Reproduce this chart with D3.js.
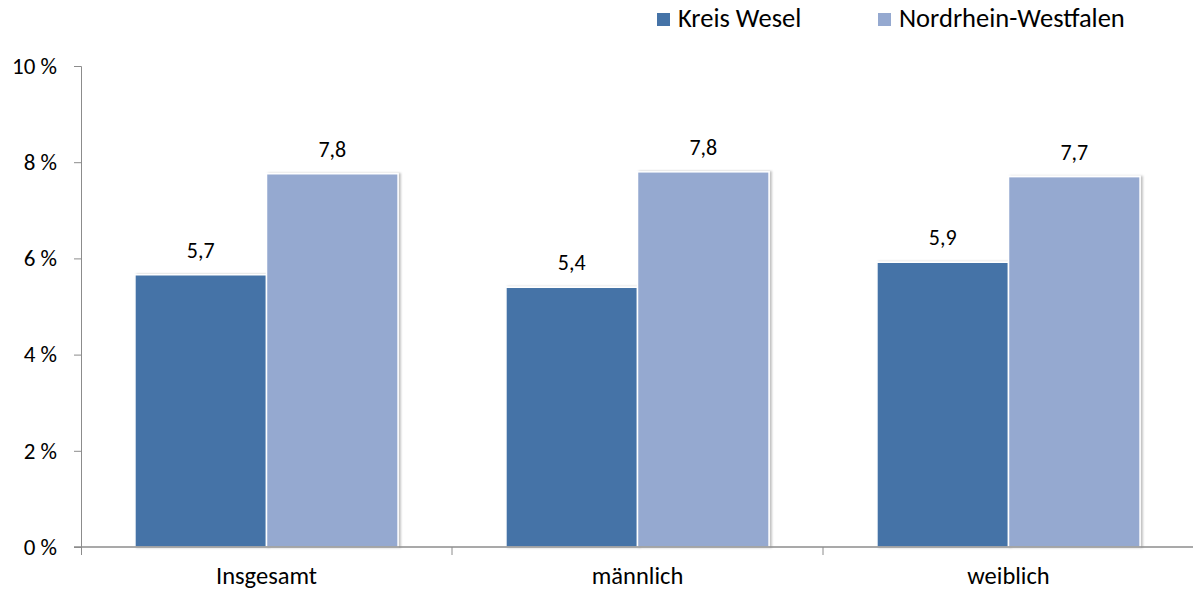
<!DOCTYPE html>
<html>
<head>
<meta charset="utf-8">
<script src="https://cdn.jsdelivr.net/npm/d3@7"></script>
<style>
  body { margin: 0; background: #fff; }
  svg { display: block; font-family: Carlito, Calibri, Lato, sans-serif; }
</style>
</head>
<body>
<div id="chart"></div>
<script>
// Chart data
var categories = ["Insgesamt", "männlich", "weiblich"];
var seriesNames = ["Kreis Wesel", "Nordrhein-Westfalen"];
var kreisWesel = [5.66, 5.4, 5.92];
var nrw = [7.76, 7.8, 7.7];
var yTicks = [0, 2, 4, 6, 8, 10];
var colors = ["#4573a7", "#95a9d0"];

var svgWidth = 1193;
var svgHeight = 592;

var margin = { top: 66, right: -1, bottom: 45, left: 81 };
var chartWidth = svgWidth - margin.left - margin.right;
var chartHeight = svgHeight - margin.top - margin.bottom;

var svg = d3.select("#chart")
  .append("svg")
  .attr("width", svgWidth)
  .attr("height", svgHeight);

// soft shadow on the right side of bars
var defs = svg.append("defs");
var filter = defs.append("filter").attr("id", "shadow")
  .attr("x", "-10%").attr("y", "-10%").attr("width", "120%").attr("height", "120%");
filter.append("feDropShadow")
  .attr("dx", 2).attr("dy", 0).attr("stdDeviation", 1.2)
  .attr("flood-color", "#000").attr("flood-opacity", 0.25);

var chartGroup = svg.append("g")
  .attr("transform", `translate(${margin.left}, ${margin.top})`);

var data = categories.map(function(c, i) {
  return { category: c, values: [kreisWesel[i], nrw[i]] };
});

var x0 = d3.scaleBand().domain(categories).range([0, chartWidth]);
var x1 = d3.scaleBand().domain(seriesNames).range([0, x0.bandwidth()])
  .paddingInner(0).paddingOuter(0.41);
var yScale = d3.scaleLinear().domain([0, 10]).range([chartHeight, 0]);

var fmt = d3.format(".1f");

// Bars
var groups = chartGroup.selectAll(".cat").data(data).enter().append("g")
  .attr("class", "cat")
  .attr("transform", d => `translate(${x0(d.category)}, 0)`);

groups.selectAll("rect")
  .data(d => d.values.map((v, i) => ({ name: seriesNames[i], value: v, i: i })))
  .enter().append("rect")
  .attr("x", d => x1(d.name))
  .attr("y", d => yScale(d.value))
  .attr("width", x1.bandwidth())
  .attr("height", d => chartHeight - yScale(d.value))
  .attr("fill", d => colors[d.i])
  .attr("stroke", "#fff")
  .attr("stroke-width", 1.5)
  .attr("filter", "url(#shadow)");

groups.selectAll(".lbl")
  .data(d => d.values.map((v, i) => ({ name: seriesNames[i], value: v })))
  .enter().append("text")
  .attr("class", "lbl")
  .attr("x", d => x1(d.name) + x1.bandwidth() / 2)
  .attr("y", d => yScale(d.value) - 17)
  .attr("text-anchor", "middle")
  .attr("font-size", 22)
  .attr("fill", "#000")
  .text(d => fmt(d.value).replace(".", ","));

// Y axis
var leftAxis = d3.axisLeft(yScale).tickValues(yTicks)
  .tickSize(7).tickPadding(17)
  .tickFormat(d => d + " %");
var yAxis = chartGroup.append("g").call(leftAxis);
yAxis.select(".domain").attr("stroke", "#8c8c8c").attr("d", `M-7,0.5H0.5V${chartHeight}`);
yAxis.selectAll(".tick line").attr("stroke", "#8c8c8c");
yAxis.selectAll(".tick text").attr("font-size", 23).attr("fill", "#000")
  .attr("font-family", "Carlito, Calibri, Lato, sans-serif");

// X axis
var xAxis = chartGroup.append("g").attr("transform", `translate(0, ${chartHeight})`);
xAxis.append("line")
  .attr("x1", -7).attr("x2", chartWidth)
  .attr("y1", 0).attr("y2", 0)
  .attr("stroke", "#8c8c8c").attr("stroke-width", 1.5);
xAxis.selectAll(".ctick").data(categories.slice(1)).enter().append("line")
  .attr("x1", d => x0(d)).attr("x2", d => x0(d))
  .attr("y1", 0).attr("y2", 8)
  .attr("stroke", "#8c8c8c");
xAxis.append("line").attr("x1", 0.5).attr("x2", 0.5).attr("y1", 0).attr("y2", 8).attr("stroke", "#8c8c8c");
xAxis.selectAll(".clbl").data(categories).enter().append("text")
  .attr("x", d => x0(d) + x0.bandwidth() / 2)
  .attr("y", 37)
  .attr("text-anchor", "middle")
  .attr("font-size", 24.5)
  .attr("fill", "#000")
  .text(d => d);

// Legend
var legendX = [657, 878];
var legend = svg.append("g");
seriesNames.forEach(function(name, i) {
  legend.append("rect")
    .attr("x", legendX[i]).attr("y", 13)
    .attr("width", 13).attr("height", 13)
    .attr("fill", colors[i]);
  legend.append("text")
    .attr("x", legendX[i] + 21).attr("y", 27)
    .attr("font-size", 26.5)
    .attr("fill", "#000")
    .text(name);
});
</script>
</body>
</html>
